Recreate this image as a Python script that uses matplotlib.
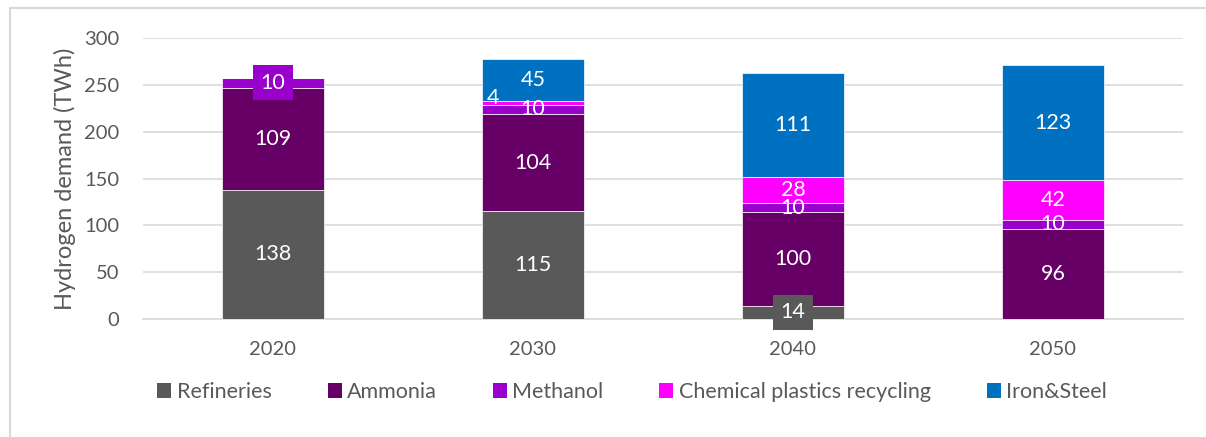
import matplotlib
matplotlib.use("Agg")
import matplotlib.pyplot as plt
from matplotlib.lines import Line2D
import numpy as np

years = ["2020", "2030", "2040", "2050"]
series = ["Refineries", "Ammonia", "Methanol", "Chemical plastics recycling", "Iron&Steel"]
refineries = [138, 115, 14, 0]
ammonia = [109, 104, 100, 96]
methanol = [10, 10, 10, 10]
chem_recycling = [0, 4, 28, 42]
iron_steel = [0, 45, 111, 123]
colors = ["#595959", "#660066", "#9900CC", "#FF00FF", "#0070C0"]
yticks = [0, 50, 100, 150, 200, 250, 300]

plt.rcParams['font.family'] = ['Lato', 'DejaVu Sans']
fig = plt.figure(figsize=(12.06, 4.37), dpi=100)
ax = fig.add_axes([143/1206, 1-319/437, 1040/1206, 281/437])

data = [refineries, ammonia, methanol, chem_recycling, iron_steel]
x = np.arange(len(years))
width = 0.39
bottom = np.zeros(len(years))
for vals, name, col in zip(data, series, colors):
    vals = np.array(vals, dtype=float)
    ax.bar(x, vals, width, bottom=bottom, color=col, label=name,
           edgecolor="white", linewidth=0.5, zorder=3)
    for i, v in enumerate(vals):
        if v <= 0:
            continue
        yc = bottom[i] + v / 2
        kw = dict(ha="center", va="center", color="white", fontsize=15.5, zorder=5)
        if (name == "Methanol" and i == 0) or (name == "Refineries" and i == 2):
            ax.text(x[i], yc, f"{int(v)}", bbox=dict(boxstyle="square,pad=0.35",
                    fc=col, ec="none"), **kw)
        elif name == "Chemical plastics recycling" and i == 1:
            ax.text(x[i] - 0.155, bottom[i] + v + 3, f"{int(v)}", **kw)
        else:
            ax.text(x[i], yc, f"{int(v)}", **kw)
    bottom += vals

ax.set_xlim(-0.5, 3.5)
ax.set_ylim(0, 300)
ax.set_yticks(yticks)
ax.set_xticks(x)
ax.set_xticklabels(years)
ax.yaxis.grid(True, color="#d9d9d9", linewidth=1.2, zorder=0)
ax.set_axisbelow(True)
for s in ["top", "right", "left"]:
    ax.spines[s].set_visible(False)
ax.spines["bottom"].set_color("#d9d9d9")
ax.spines["bottom"].set_linewidth(1.2)
ax.tick_params(axis="both", length=0, labelsize=14.5, colors="#595959")
ax.tick_params(axis="y", pad=17)
ax.tick_params(axis="x", pad=16)
ax.set_ylabel("Hydrogen demand (TWh)", fontsize=17, color="#595959", labelpad=6)

leg = fig.legend(loc="center", bbox_to_anchor=(632/1206, 1-392/437), ncol=5,
                 frameon=False, fontsize=15.5, handlelength=0.65, handleheight=0.65,
                 handletextpad=0.25, columnspacing=2.6, labelcolor="#595959")
for h in leg.legend_handles:
    h.set_edgecolor("none")

fig.add_artist(Line2D([10/1206, 10/1206], [0, 1-8/437], color="#d9d9d9", lw=1.5))
fig.add_artist(Line2D([10/1206, 1], [1-8/437, 1-8/437], color="#d9d9d9", lw=1.5))

fig.savefig("out.png", dpi=100)
